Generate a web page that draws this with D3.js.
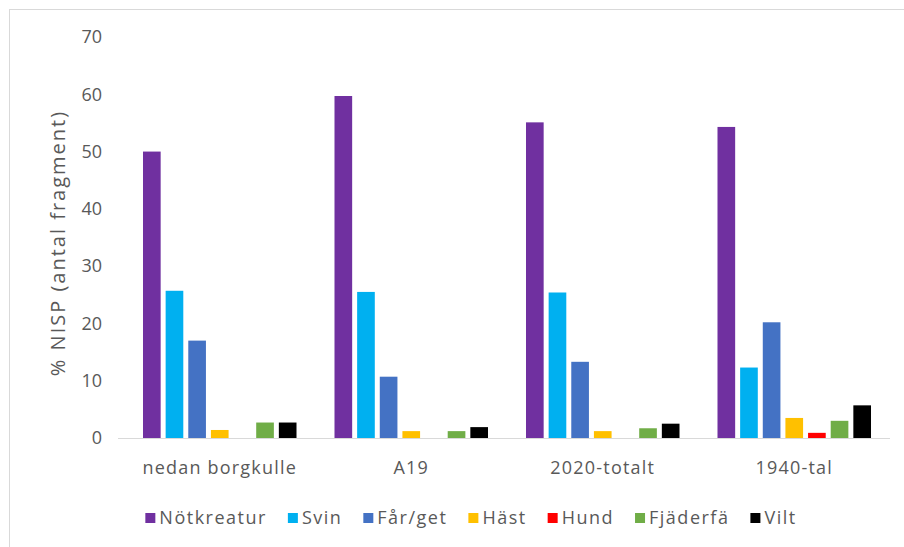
<!DOCTYPE html>
<html>
<head>
<meta charset="utf-8">
<script src="https://cdn.jsdelivr.net/npm/d3@7/dist/d3.min.js"></script>
<style>
  html, body { margin: 0; padding: 0; background: #fff; }
  svg { display: block; }
  text { font-family: "Open Sans", "Liberation Sans", sans-serif; fill: #595959; }
</style>
</head>
<body>
<svg id="chart" width="904" height="547"></svg>
<script>
// Sites / contexts on the x axis
const categories = ["nedan borgkulle", "A19", "2020-totalt", "1940-tal"];

// Animal groups (legend order)
const series = ["Nötkreatur", "Svin", "Får/get", "Häst", "Hund", "Fjäderfä", "Vilt"];
const seriesColors = ["#7030a0", "#00b0f0", "#4472c4", "#ffc000", "#ff0000", "#70ad47", "#000000"];

// % NISP per animal group, one array per site
const nedanBorgkulle = [50.0, 25.7, 17.0, 1.4, 0.0, 2.7, 2.7];
const a19            = [59.7, 25.5, 10.7, 1.2, 0.0, 1.2, 1.9];
const totalt2020     = [55.1, 25.4, 13.3, 1.2, 0.0, 1.7, 2.5];
const tal1940        = [54.3, 12.3, 20.2, 3.5, 0.9, 3.0, 5.7];
const values = [nedanBorgkulle, a19, totalt2020, tal1940];

const yTicks = [0, 10, 20, 30, 40, 50, 60, 70];
const yTitle = "% NISP (antal fragment)";

const svg = d3.select("#chart");

// outer frame
svg.append("rect")
  .attr("x", 9.5).attr("y", 9.5)
  .attr("width", 904).attr("height", 547)
  .attr("fill", "#fff").attr("stroke", "#d9d9d9").attr("stroke-width", 1);

const plot = { left: 124, right: 890, top: 37, bottom: 438 };

const x0 = d3.scaleBand()
  .domain(categories)
  .range([plot.left, plot.right])
  .paddingInner(0.17)
  .paddingOuter(0.085);

const x1 = d3.scaleBand()
  .domain(series)
  .range([0, x0.bandwidth()])
  .paddingInner(0.22)
  .paddingOuter(0.12);

const y = d3.scaleLinear().domain([0, 70]).range([plot.bottom, plot.top]);

// y axis labels (no axis line, no grid)
const yAxis = svg.append("g")
  .attr("transform", `translate(${102},0)`)
  .call(d3.axisLeft(y).tickValues(yTicks).tickSize(0).tickPadding(0));
yAxis.select(".domain").remove();
yAxis.selectAll("text")
  .style("font-size", "18px")
  .attr("fill", "#595959");

// y axis title
svg.append("text")
  .attr("transform", `translate(65,${243}) rotate(-90)`)
  .attr("text-anchor", "middle")
  .style("font-size", "20px")
  .style("letter-spacing", "2px")
  .text(yTitle);

// bars
const groups = svg.append("g")
  .selectAll("g")
  .data(categories)
  .join("g")
  .attr("transform", d => `translate(${x0(d)},0)`);

groups.selectAll("rect")
  .data((d, i) => series.map((s, j) => ({ s, v: values[i][j], c: seriesColors[j] })))
  .join("rect")
  .attr("x", d => x1(d.s))
  .attr("width", x1.bandwidth())
  .attr("y", d => y(d.v))
  .attr("height", d => y(0) - y(d.v))
  .attr("fill", d => d.c);

// baseline
svg.append("line")
  .attr("x1", 118).attr("x2", plot.right)
  .attr("y1", y(0) + 0.5).attr("y2", y(0) + 0.5)
  .attr("stroke", "#d9d9d9").attr("stroke-width", 1);

// category labels
const xAxis = svg.append("g")
  .attr("transform", `translate(0,${y(0)})`)
  .call(d3.axisBottom(x0).tickSize(0).tickPadding(23));
xAxis.select(".domain").remove();
xAxis.selectAll("text")
  .style("font-size", "18px")
  .style("letter-spacing", "1.2px")
  .attr("fill", "#595959");

// legend
const legend = svg.append("g").attr("transform", "translate(0,518)");
const items = legend.selectAll("g")
  .data(series)
  .join("g");
items.append("rect")
  .attr("y", -5).attr("width", 10).attr("height", 10)
  .attr("fill", (d, i) => seriesColors[i]);
items.append("text")
  .attr("x", 14).attr("dy", "0.35em")
  .style("font-size", "18px")
  .style("letter-spacing", "1.5px")
  .text(d => d);

const widths = [];
items.each(function () { widths.push(this.getBBox().width); });
const gap = 21;
const total = d3.sum(widths) + gap * (widths.length - 1);
let cursor = 471 - total / 2;
items.attr("transform", (d, i) => {
  const t = `translate(${cursor},0)`;
  cursor += widths[i] + gap;
  return t;
});
</script>
</body>
</html>
